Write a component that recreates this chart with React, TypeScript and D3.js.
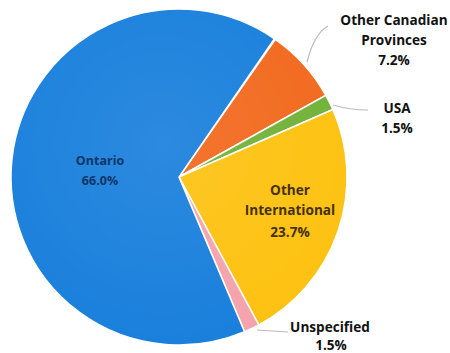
import React from "react";
import * as d3 from "d3";

const categories = ["Other Canadian Provinces", "USA", "Other International", "Unspecified", "Ontario"];
const values = [7.2, 1.5, 23.7, 1.5, 66.0];
const colors = ["#f26a1f", "#72b23a", "#fdc212", "#f5a3ad", "#1a80dc"];

const W = 450, H = 353;
const cx = 179, cy = 177, R = 168;

export default function App() {
  const total = d3.sum(values);
  const start = (35 / 180) * Math.PI;
  const pie = d3.pie<number>().sort(null).startAngle(start).endAngle(start + (2 * Math.PI * total) / 100);
  const arcs = pie(values);
  const arc = d3.arc<d3.PieArcDatum<number>>().innerRadius(0).outerRadius(R);
  const font = "'Open Sans', sans-serif";
  return (
    <svg width={W} height={H} style={{ position: "absolute", left: 0, top: 0, background: "#fff" }}>
      <defs>
        <radialGradient id="shine" cx="0.45" cy="0.4" r="0.6">
          <stop offset="0" stopColor="#fff" stopOpacity="0.08" />
          <stop offset="1" stopColor="#fff" stopOpacity="0" />
        </radialGradient>
      </defs>
      <g transform={`translate(${cx},${cy})`}>
        {arcs.map((a, i) => (
          <path key={i} d={arc(a) || ""} fill={colors[i]} stroke="#fff" strokeWidth={1.5} />
        ))}
        <circle r={R} fill="url(#shine)" />
      </g>
      {/* leader lines */}
      <path d="M307,62 Q314,34 328,26" fill="none" stroke="#bbb" strokeWidth={1.2} />
      <path d="M333,105 Q350,110 368,110" fill="none" stroke="#bbb" strokeWidth={1.2} />
      <path d="M257,330 L288,332" fill="none" stroke="#bbb" strokeWidth={1.2} />
      <g fontFamily={font} fontWeight="bold" fontSize={13.6} textAnchor="middle" fill="#111">
        <text x={394} y={25}>Other Canadian</text>
        <text x={394} y={45}>Provinces</text>
        <text x={394} y={65}>{values[0].toFixed(1)}%</text>
        <text x={397} y={113}>USA</text>
        <text x={397} y={133}>{values[1].toFixed(1)}%</text>
        <text x={330} y={332}>Unspecified</text>
        <text x={331} y={350}>{values[3].toFixed(1)}%</text>
      </g>
      <g fontFamily={font} fontWeight="bold" fontSize={13.6} textAnchor="middle" fill="#45300e">
        <text x={290} y={195}>Other</text>
        <text x={290} y={215}>International</text>
        <text x={290} y={237}>{values[2].toFixed(1)}%</text>
      </g>
      <g fontFamily={font} fontWeight="bold" fontSize={12.5} textAnchor="middle" fill="#0f3566">
        <text x={100} y={165}>Ontario</text>
        <text x={100} y={185}>{values[4].toFixed(1)}%</text>
      </g>
    </svg>
  );
}
